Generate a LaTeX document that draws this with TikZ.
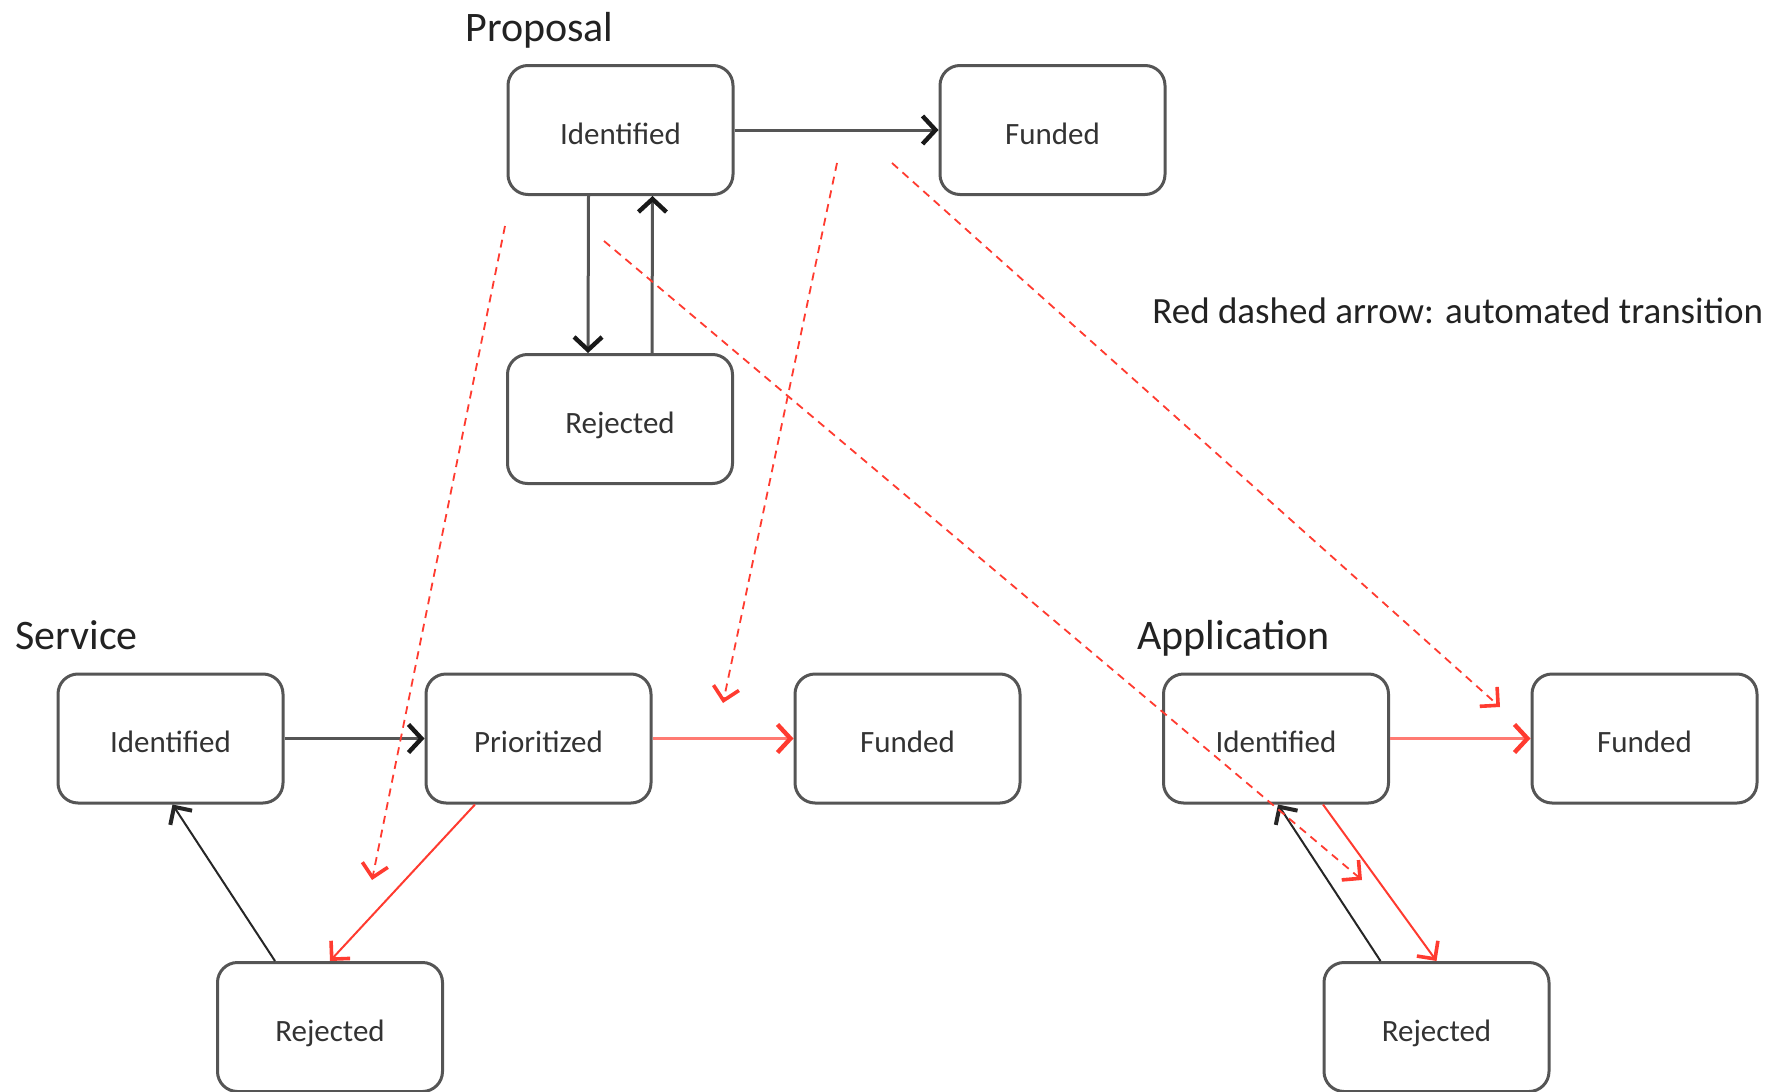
\documentclass[tikz,border=0pt]{standalone}
\usepackage{fontspec}
\setmainfont{Carlito}
\usetikzlibrary{arrows.meta}
\definecolor{boxgray}{HTML}{555555}
\definecolor{txt}{HTML}{333333}
\definecolor{ttl}{HTML}{222222}
\definecolor{autored}{HTML}{FF3B30}
\definecolor{lightred}{HTML}{FF7A72}
\begin{document}
\begin{tikzpicture}[x=0.5pt,y=-0.5pt,
  state/.style={draw=boxgray, line width=1.5pt, rounded corners=10pt,
    minimum width=112.5pt, minimum height=64.5pt, inner sep=0pt, text=txt,
    text height=14.4pt, text depth=0pt,
    font=\fontsize{15.5}{18}\selectfont},
  grouptitle/.style={anchor=base west, inner sep=0pt, text=ttl,
    font=\fontsize{21}{25}\selectfont},
  legend/.style={anchor=base west, inner sep=0pt, text=ttl,
    font=\fontsize{18.5}{22}\selectfont},
  grayarrow/.style={-{Straight Barb[length=6.5pt,width=14pt,line width=2.2pt,color=black!90]}, draw=boxgray, line width=1.5pt},
  blackarrow/.style={-{Straight Barb[length=6.5pt,width=13pt,line width=2pt]}, draw=black!85, line width=1pt},
  redarrow/.style={-{Straight Barb[length=6.5pt,width=13pt,line width=1.8pt]}, draw=autored, line width=1pt},
  redthick/.style={-{Straight Barb[length=6.5pt,width=14pt,line width=2.2pt,color=autored]}, draw=lightred, line width=1.6pt},
  autoarrow/.style={-{Straight Barb[length=6.5pt,width=13pt,line width=1.8pt]}, draw=autored, line width=0.9pt, dash pattern=on 4pt off 3pt}
]
\useasboundingbox (0,0) rectangle (1785,1092);

% Proposal
\node[grouptitle] (tprop) at (465,41) {Proposal};
\node[state] (PI) at (620.5,130) {Identified};
\node[state] (PF) at (1052.5,130) {Funded};
\node[state] (PR) at (620,419) {Rejected};

% Service
\node[grouptitle] (tserv) at (15,649) {Service};
\node[state] (SI) at (170.5,738.5) {Identified};
\node[state] (SP) at (538.5,738.5) {Prioritized};
\node[state] (SF) at (907.5,738.5) {Funded};
\node[state] (SR) at (330,1027) {Rejected};

% Application
\node[grouptitle] (tapp) at (1137,649) {Application};
\node[state] (AI) at (1276,738.5) {Identified};
\node[state] (AF) at (1644.5,738.5) {Funded};
\node[state] (AR) at (1436.5,1027) {Rejected};

% Legend
\node[legend] (leg) at (1152,323) {Red dashed arrow: automated transition};

% Proposal transitions
\draw[grayarrow] (PI.east) -- (PF.west);
\draw[grayarrow] ([xshift=-16pt]PI.south) -- ([xshift=-16pt]PR.north);
\draw[grayarrow] ([xshift=16pt]PR.north) -- ([xshift=16pt]PI.south);

% Service transitions
\draw[grayarrow] (SI.east) -- (SP.west);
\draw[redthick] (SP.east) -- (SF.west);
\draw[redarrow] ([xshift=-31.75pt]SP.south) -- (SR.north);
\draw[blackarrow] ([xshift=-27.5pt]SR.north) -- ([xshift=1pt]SI.south);

% Application transitions
\draw[redthick] (AI.east) -- (AF.west);
\draw[redarrow] ([xshift=23.5pt]AI.south) -- (AR.north);
\draw[blackarrow] ([xshift=-28pt]AR.north) -- ([xshift=1pt]AI.south);

% Automated transitions (free ends)
\coordinate (d1s) at (505,226);
\coordinate (d1e) at (372,880);
\coordinate (d2s) at (837,163);
\coordinate (d2e) at (723,703);
\coordinate (d3s) at (892,163);
\coordinate (d3e) at (1500,707);
\coordinate (d4s) at (604,241);
\coordinate (d4e) at (1362,880);
\draw[autoarrow] (d1s) -- (d1e);
\draw[autoarrow] (d2s) -- (d2e);
\draw[autoarrow] (d3s) -- (d3e);
\draw[autoarrow] (d4s) -- (d4e);
\end{tikzpicture}
\end{document}
